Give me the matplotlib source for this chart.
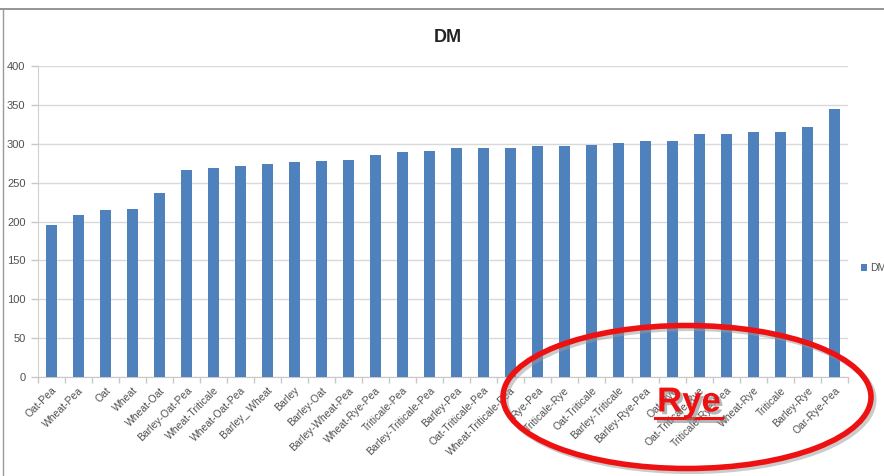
import matplotlib
matplotlib.use('Agg')
import matplotlib.pyplot as plt
import matplotlib.patheffects as pe
from matplotlib.patches import Ellipse
from matplotlib.lines import Line2D

plt.rcParams['font.family'] = ['Liberation Sans', 'DejaVu Sans']

# dry matter per mixture, sorted low to high
mixtures = ['Oat-Pea', 'Wheat-Pea', 'Oat', 'Wheat', 'Wheat-Oat', 'Barley-Oat-Pea',
            'Wheat-Triticale', 'Wheat-Oat-Pea', 'Barley_ Wheat', 'Barley', 'Barley-Oat',
            'Barley-Wheat-Pea', 'Wheat-Rye-Pea', 'Triticale-Pea', 'Barley-Triticale-Pea',
            'Barley-Pea', 'Oat-Triticale-Pea', 'Wheat-Triticale-Pea', 'Rye-Pea',
            'Triticale-Rye', 'Oat-Triticale', 'Barley-Triticale', 'Barley-Rye-Pea',
            'Oat-Rye', 'Oat-Triticale-Rye', 'Triticale-Rye-Pea', 'Wheat-Rye', 'Triticale',
            'Barley-Rye', 'Oar-Rye-Pea']
dm = [196, 209, 215, 216, 237, 266, 269, 271, 274, 276, 278, 279, 285, 289, 291,
      294, 294, 295, 297, 297, 298, 301, 303, 304, 312, 313, 315, 315, 322, 345]
yticks = [0, 50, 100, 150, 200, 250, 300, 350, 400]

W, H = 884, 476
fig = plt.figure(figsize=(W / 100, H / 100), dpi=100)
fig.patch.set_facecolor('white')
ax = fig.add_axes([38 / W, 1 - 377 / H, 810 / W, 311 / H])

x = list(range(len(mixtures)))
bars = ax.bar(x, dm, width=0.4, color='#4F81BD', zorder=3, label='DM')

ax.set_xlim(-0.5, len(mixtures) - 0.5)
ax.set_ylim(0, 400)
ax.set_yticks(yticks)
ax.yaxis.grid(True, color='#D9D9D9', lw=1.0, zorder=0)
ax.set_axisbelow(True)

for s in ['top', 'right']:
    ax.spines[s].set_visible(False)
ax.spines['left'].set_color('#D0D0D0')
ax.spines['bottom'].set_color('#C8C8C8')

ax.tick_params(axis='y', colors='#C8C8C8', labelcolor='#505050', labelsize=8,
               length=5, width=1, pad=4)
ax.set_xticks(x)
ax.set_xticklabels(mixtures, rotation=45, ha='right', va='top',
                   rotation_mode='anchor', fontsize=7.5, color='#505050')
ax.tick_params(axis='x', length=0, pad=6)
# category separator ticks
ax.set_xticks([i - 0.5 for i in range(len(mixtures) + 1)], minor=True)
ax.tick_params(axis='x', which='minor', length=4, color='#C8C8C8', width=1)

fig.text(448 / W, 1 - 37 / H, 'DM', fontsize=13, fontweight='bold',
         color='#222222', ha='center', va='center')

fig.legend(handles=[bars], labels=['DM'], loc='center left',
           bbox_to_anchor=(856 / W, 1 - 268 / H), frameon=False, fontsize=7.5,
           handlelength=0.6, handleheight=0.6, handletextpad=0.3,
           borderpad=0, labelcolor='#505050')

# slide frame lines
fig.add_artist(Line2D([0, 1], [1 - 9 / H, 1 - 9 / H], transform=fig.transFigure,
                      color='#8C8C8C', lw=1.3))
fig.add_artist(Line2D([3 / W, 3 / W], [0, 1 - 9 / H], transform=fig.transFigure,
                      color='#9A9A9A', lw=1.0))

# highlight of the rye mixtures
ring = Ellipse((687 / W, 1 - 397 / H), 368 / W, 143 / H, transform=fig.transFigure,
               fill=False, edgecolor='#EE1111', lw=4, zorder=10)
ring.set_path_effects([pe.SimpleLineShadow(offset=(2, -2), shadow_color='#999999',
                                           alpha=0.5), pe.Normal()])
fig.add_artist(ring)

shadow = [pe.SimplePatchShadow(offset=(2, -2), shadow_rgbFace='#888888', alpha=0.6),
          pe.Normal()]
fig.text(689 / W, 1 - 402 / H, 'Rye', fontsize=25, fontweight='bold', color='#EE1111',
         ha='center', va='center', zorder=11, path_effects=shadow)
ul = Line2D([655 / W, 722 / W], [1 - 418 / H, 1 - 418 / H], transform=fig.transFigure,
            color='#EE1111', lw=2.2, zorder=11)
ul.set_path_effects([pe.SimpleLineShadow(offset=(2, -2), shadow_color='#888888',
                                         alpha=0.6), pe.Normal()])
fig.add_artist(ul)

fig.savefig('out.png', dpi=100, facecolor='white')
